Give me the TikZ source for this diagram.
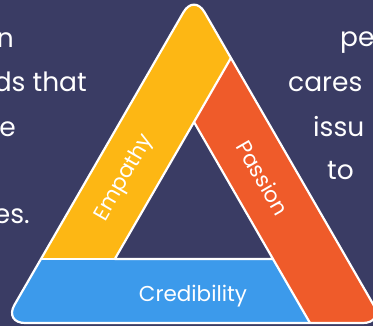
\documentclass[tikz,border=0pt]{standalone}
\usepackage{fontspec}
\setmainfont{Poppins}
\definecolor{bg}{HTML}{3A3C64}
\definecolor{yel}{HTML}{FDB714}
\definecolor{ora}{HTML}{EF5B2A}
\definecolor{blu}{HTML}{3C9AEB}
\tikzset{
  wl/.style={draw=white, line width=2.2pt, line join=round},
  body/.style={text=white, font=\fontsize{26.5}{30}\selectfont, inner sep=0pt},
  lab/.style={text=white, font=\fontsize{21.5}{24}\selectfont, inner sep=0pt}
}
\begin{document}
\begin{tikzpicture}[x=1pt,y=-1pt]
\useasboundingbox (0,0) rectangle (373,326);
\fill[bg] (0,0) rectangle (373,326);
\clip (0,0) rectangle (373,326);
\coordinate (A) at (194,-6);
\coordinate (B) at (4,323);
\coordinate (C) at (384,323);
\coordinate (Y1) at (40.9,259);
\coordinate (Y2) at (114.8,259);
\coordinate (Y3) at (230.9,58);
\coordinate (O1) at (194,122);
\coordinate (O2) at (310,323);
\coordinate (H3) at (273,259);
\begin{scope}
  \clip[rounded corners=21] (A) -- (B) -- (C) -- cycle;
  \fill[yel] (A) -- (Y1) -- (Y2) -- (Y3) -- cycle;
  \fill[ora] (Y3) -- (C) -- (O2) -- (O1) -- cycle;
  \fill[blu] (Y1) -- (B) -- (O2) -- (H3) -- cycle;
\end{scope}
\draw[wl, rounded corners=21] (A) -- (B) -- (C) -- cycle;
\draw[wl] (O1) -- (Y2) -- (H3) -- cycle;
\draw[wl] (Y3) -- (O1);
\draw[wl] (Y1) -- (Y2);
\draw[wl] (H3) -- (O2);
% labels
\node[lab, anchor=base] (cred) at (193,302) {Credibility};
\node[lab, rotate=60] (emp) at (124.6,178) {Empathy};
\node[lab, rotate=-60] (pas) at (263,178) {Passion};
% body text fragments
\node[body, anchor=base east] (l1) at (14,48) {n};
\node[body, anchor=base east] (l2) at (87,92) {ds that};
\node[body, anchor=base east] (l3) at (16,137) {e};
\node[body, anchor=base east] (l4) at (30,224) {es.};
\node[body, anchor=base west] (r1) at (340,47) {pe};
\node[body, anchor=base west] (r2) at (288,92) {cares};
\node[body, anchor=base west] (r3) at (313,137) {issu};
\node[body, anchor=base west] (r4) at (327,180) {to};
\end{tikzpicture}
\end{document}
